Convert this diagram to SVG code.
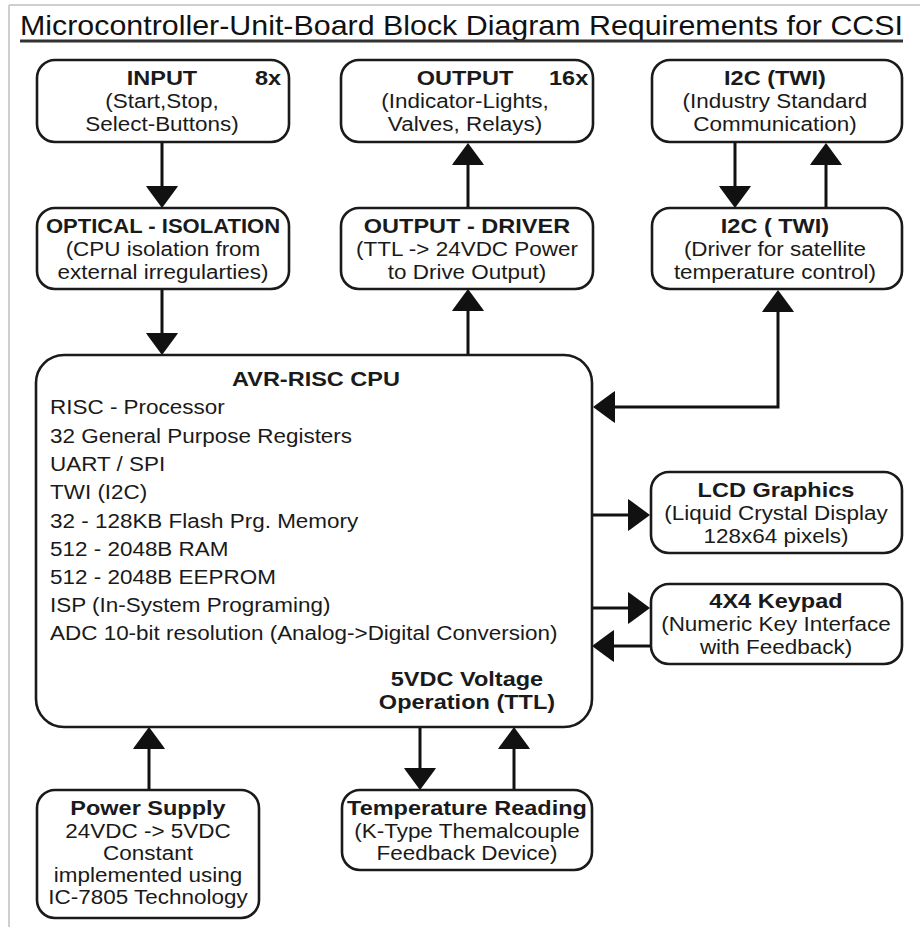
<svg xmlns="http://www.w3.org/2000/svg" width="920" height="927" viewBox="0 0 920 927">
<defs>
<marker id="ah" viewBox="0 0 22 32" refX="1" refY="16" markerWidth="22" markerHeight="32" markerUnits="userSpaceOnUse" orient="auto-start-reverse">
<path d="M0,0 L3,2 L22,16 L3,30 L0,32 Z" fill="#111"/>
</marker>
</defs>
<style>
.box{fill:#fff;stroke:#1a1a1a;stroke-width:2.6}
.t{font-family:"Liberation Sans",Arial,sans-serif;font-size:21px;fill:#1a1a1a;text-anchor:middle;transform-box:fill-box;transform-origin:50% 50%;transform:scaleX(1.07)}
.b{font-weight:bold;transform:scaleX(1.12)}
.n{transform:scaleX(1.05)}
.l{text-anchor:start;transform-origin:0% 50%}
.c{fill:none;stroke:#111;stroke-width:3}
</style>
<rect width="920" height="927" fill="#fff"/>
<path d="M9,5 H920 M9,5 V927" fill="none" stroke="#cfcfcf" stroke-width="2"/>
<g id="title">
<text x="20" y="35" font-family="'Liberation Sans',Arial,sans-serif" font-size="28" fill="#111" textLength="883" lengthAdjust="spacingAndGlyphs">Microcontroller-Unit-Board Block Diagram Requirements for CCSI</text>
<line x1="20" y1="41" x2="903" y2="41" stroke="#333" stroke-width="3"/>
</g>
<g id="connectors">
<path class="c" d="M162,143 V187" marker-end="url(#ah)"/>
<path class="c" d="M162,289 V334" marker-end="url(#ah)"/>
<path class="c" d="M468,355 V310" marker-end="url(#ah)"/>
<path class="c" d="M468,208 V164" marker-end="url(#ah)"/>
<path class="c" d="M735,143 V187" marker-end="url(#ah)"/>
<path class="c" d="M826,208 V164" marker-end="url(#ah)"/>
<path class="c" d="M614,407 H778 V311" marker-start="url(#ah)" marker-end="url(#ah)"/>
<path class="c" d="M592,515 H629" marker-end="url(#ah)"/>
<path class="c" d="M592,608 H629" marker-end="url(#ah)"/>
<path class="c" d="M651,646 H613" marker-end="url(#ah)"/>
<path class="c" d="M149,790 V748" marker-end="url(#ah)"/>
<path class="c" d="M420,727 V769" marker-end="url(#ah)"/>
<path class="c" d="M514,790 V748" marker-end="url(#ah)"/>
</g>
<g id="input">
<rect class="box" x="37" y="60" width="252" height="82" rx="18"/>
<text class="t b" x="162" y="85">INPUT</text>
<text class="t b l" x="255" y="85">8x</text>
<text class="t" x="162" y="108">(Start,Stop,</text>
<text class="t" x="162" y="131">Select-Buttons)</text>
</g>
<g id="output">
<rect class="box" x="341" y="60" width="252" height="82" rx="18"/>
<text class="t b" x="465" y="85">OUTPUT</text>
<text class="t b l" x="549" y="85">16x</text>
<text class="t" x="465" y="108">(Indicator-Lights,</text>
<text class="t" x="465" y="131">Valves, Relays)</text>
</g>
<g id="i2c-top">
<rect class="box" x="652" y="60" width="250" height="82" rx="18"/>
<text class="t b" x="775" y="85">I2C (TWI)</text>
<text class="t" x="775" y="108">(Industry Standard</text>
<text class="t" x="775" y="131">Communication)</text>
</g>
<g id="optical">
<rect class="box" x="37" y="208" width="252" height="81" rx="18"/>
<text class="t b n" x="163" y="233">OPTICAL - ISOLATION</text>
<text class="t" x="163" y="256">(CPU isolation from</text>
<text class="t" x="163" y="279">external irregularties)</text>
</g>
<g id="output-driver">
<rect class="box" x="341" y="208" width="252" height="81" rx="18"/>
<text class="t b" x="467" y="233">OUTPUT - DRIVER</text>
<text class="t" x="467" y="256">(TTL -&gt; 24VDC Power</text>
<text class="t" x="467" y="279">to Drive Output)</text>
</g>
<g id="i2c-driver">
<rect class="box" x="652" y="208" width="250" height="81" rx="18"/>
<text class="t b" x="775" y="233">I2C ( TWI)</text>
<text class="t" x="775" y="256">(Driver for satellite</text>
<text class="t" x="775" y="279">temperature control)</text>
</g>
<g id="cpu">
<rect class="box" x="36" y="355" width="556" height="372" rx="28"/>
<text class="t b" x="316" y="386">AVR-RISC CPU</text>
<text class="t l" x="50" y="414">RISC - Processor</text>
<text class="t l" x="50" y="443">32 General Purpose Registers</text>
<text class="t l" x="50" y="471">UART / SPI</text>
<text class="t l" x="50" y="499">TWI (I2C)</text>
<text class="t l" x="50" y="528">32 - 128KB Flash Prg. Memory</text>
<text class="t l" x="50" y="556">512 - 2048B RAM</text>
<text class="t l" x="50" y="584">512 - 2048B EEPROM</text>
<text class="t l" x="50" y="612">ISP (In-System Programing)</text>
<text class="t l" x="50" y="640">ADC 10-bit resolution (Analog-&gt;Digital Conversion)</text>
<text class="t b" x="467" y="686">5VDC Voltage</text>
<text class="t b" x="467" y="709">Operation (TTL)</text>
</g>
<g id="lcd">
<rect class="box" x="651" y="472" width="251" height="81" rx="18"/>
<text class="t b" x="776" y="497">LCD Graphics</text>
<text class="t" x="776" y="520">(Liquid Crystal Display</text>
<text class="t" x="776" y="543">128x64 pixels)</text>
</g>
<g id="keypad">
<rect class="box" x="651" y="584" width="251" height="80" rx="18"/>
<text class="t b" x="776" y="608">4X4 Keypad</text>
<text class="t" x="776" y="631">(Numeric Key Interface</text>
<text class="t" x="776" y="654">with Feedback)</text>
</g>
<g id="power">
<rect class="box" x="37" y="790" width="222" height="128" rx="18"/>
<text class="t b" x="148" y="815">Power Supply</text>
<text class="t" x="148" y="838">24VDC -&gt; 5VDC</text>
<text class="t" x="148" y="860">Constant</text>
<text class="t" x="148" y="882">implemented using</text>
<text class="t" x="148" y="904">IC-7805 Technology</text>
</g>
<g id="temperature">
<rect class="box" x="342" y="790" width="250" height="80" rx="18"/>
<text class="t b" x="467" y="815">Temperature Reading</text>
<text class="t" x="467" y="838">(K-Type Themalcouple</text>
<text class="t" x="467" y="860">Feedback Device)</text>
</g>
</svg>
